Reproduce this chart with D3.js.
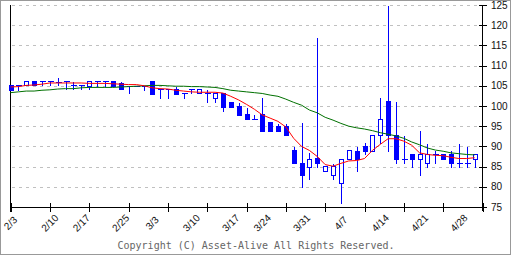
<!DOCTYPE html>
<html lang="ja">
<head>
<meta charset="utf-8">
<title>Candlestick chart</title>
<style>
  body { margin: 0; background: #fff; }
  svg { display: block; }
  .grid line { stroke: #c0c0c0; stroke-dasharray: 3,4; }
  .ax text { font: 10px "Liberation Sans", sans-serif; fill: #111; }
  .copy { font: 10px "DejaVu Sans Mono", monospace; fill: #666; }
</style>
</head>
<body>
<script src="https://cdn.jsdelivr.net/npm/d3@7"></script>
<script>

// ---- data (one entry per trading day) ----
const open  = [105.2,105.1,105.2,106.1,106.1,106.1,106.0,106.1,105.1,105.1,
               105.0,106.1,106.1,106.1,105.6,105.0,105.0,105.0,106.1,104.3,
               104.1,104.2,103.1,104.2,103.1,103.1,102.0,103.1,101.0,99.9,
               97.9,96.9,97.9,96.0,95.0,95.0,89.0,86.0,84.9,87.1,
               84.0,83.0,80.9,87.0,88.9,90.0,88.9,92.9,101.2,92.9,
               86.9,88.0,86.9,86.0,88.0,88.0,88.0,86.0,86.0,87.0];
const high  = [105.2,105.1,106.1,106.1,106.1,106.1,107.1,106.1,106.1,105.1,
               106.1,106.1,106.1,106.1,106.1,105.0,105.0,105.0,106.1,104.3,
               104.1,104.9,103.1,104.2,104.2,104.2,103.1,103.1,101.0,101.0,
               99.8,98.1,102.3,96.0,95.9,95.9,90.0,96.0,88.6,117.0,
               85.1,86.0,87.0,89.0,90.0,91.0,92.9,102.2,125.0,101.2,
               92.9,88.0,94.0,90.9,89.0,88.0,89.0,90.9,90.0,88.0];
const low   = [104.0,104.0,105.2,105.2,105.1,105.1,105.1,104.1,104.1,104.1,
               104.1,105.0,105.0,105.0,104.1,103.1,105.0,104.0,103.0,102.1,
               102.1,102.9,102.0,103.1,103.1,101.0,101.0,98.8,99.8,97.7,
               96.8,96.9,93.8,93.8,93.8,92.9,85.9,79.9,81.9,84.9,
               84.0,82.0,75.9,87.0,83.9,88.0,88.9,90.9,88.9,85.9,
               85.9,84.9,83.0,84.9,86.0,87.0,84.9,84.9,84.9,84.9];
const close = [104.0,105.1,106.1,105.2,106.1,106.1,106.0,106.1,105.1,105.1,
               106.1,106.1,106.1,105.0,104.1,105.0,105.0,105.0,103.0,104.3,
               104.1,102.9,103.1,104.2,104.2,103.1,103.1,99.8,99.8,97.7,
               96.8,96.9,93.8,93.8,93.8,92.9,85.9,82.9,87.0,85.9,
               85.1,85.1,87.0,89.0,86.9,88.9,92.9,96.9,92.9,86.9,
               86.9,86.9,88.0,88.0,88.0,87.0,86.0,86.0,86.0,88.0];

// moving averages (short = red, long = green)
const maShort = [104.7,104.8,105.1,105.2,105.4,105.7,105.7,105.7,105.7,105.7,
                 105.6,105.6,105.6,105.5,105.4,105.3,105.3,105.0,104.5,104.3,
                 104.2,103.9,103.7,103.5,103.4,103.4,103.4,103.2,102.4,101.5,
                 100.4,99.2,97.8,97.0,96.2,94.8,92.0,90.0,89.0,87.5,
                 85.5,85.1,85.8,86.4,86.5,87.0,89.0,90.5,91.9,91.9,
                 91.3,90.3,88.4,88.0,87.8,87.7,87.3,87.0,87.0,87.2];
const maLong  = [103.3,103.5,103.7,103.7,103.9,104.0,104.2,104.3,104.3,104.5,
                 104.6,104.6,104.6,104.6,104.7,104.8,104.9,105.0,105.1,105.1,
                 105.0,104.9,104.9,104.8,104.8,104.7,104.6,104.3,103.9,103.7,
                 103.5,103.3,103.1,102.7,102.4,101.7,100.9,100.2,99.0,98.3,
                 97.2,96.5,95.7,95.0,94.6,94.3,93.9,93.4,93.0,92.6,
                 92.0,91.1,90.4,89.6,89.1,88.8,88.4,88.2,88.0,87.9];

// date labels and the trading day they belong to
const tickLabels = ["2/3","2/10","2/17","2/25","3/3","3/10","3/17","3/24","3/31","4/7","4/14","4/21","4/28"];
const tickDays   = [0, 5, 9, 14, 18, 23, 28, 32, 37, 42, 47, 52, 57];
const priceTicks = [75, 80, 85, 90, 95, 100, 105, 110, 115, 120, 125];

// ---- drawing ----
const W = 512, H = 256;
const svg = d3.select("body").append("svg").attr("width", W).attr("height", H);

const x = d3.scaleLinear().domain([0, 60]).range([10.5, 482.5]);
const y = d3.scaleLinear().domain([75, 125]).range([207, 5]);
const px = v => Math.round(x(v)) + 0.5;
const py = v => Math.round(y(v)) + 0.5;

// frame
svg.append("rect").attr("x", 0.5).attr("y", 0.5).attr("width", W - 2).attr("height", H - 2)
  .attr("fill", "none").attr("stroke", "#999");

// grid
svg.append("g").attr("class", "grid").selectAll("line")
  .data(priceTicks.slice(1))
  .join("line")
  .attr("x1", 12).attr("x2", 482)
  .attr("y1", d => py(d)).attr("y2", d => py(d));

// axes
const axes = svg.append("g").attr("class", "ax").attr("shape-rendering", "crispEdges");
axes.append("line").attr("x1", 10.5).attr("x2", 10.5).attr("y1", 5).attr("y2", 212).attr("stroke", "#000");
axes.append("line").attr("x1", 10).attr("x2", 483).attr("y1", py(75)).attr("y2", py(75)).attr("stroke", "#000");
axes.append("line").attr("x1", 482.5).attr("x2", 482.5).attr("y1", 5).attr("y2", 211).attr("stroke", "#000");

axes.selectAll("line.xt").data(d3.range(0, 61, 5)).join("line").attr("class", "xt")
  .attr("x1", d => px(d)).attr("x2", d => px(d))
  .attr("y1", 203).attr("y2", 212).attr("stroke", "#000");

axes.selectAll("line.yt").data(priceTicks).join("line").attr("class", "yt")
  .attr("x1", 479).attr("x2", 487)
  .attr("y1", d => py(d)).attr("y2", d => py(d)).attr("stroke", "#000");

axes.selectAll("text.yl").data(priceTicks).join("text").attr("class", "yl")
  .attr("x", 491).attr("y", d => y(d)).attr("dy", "0.35em")
  .text(d => d);

axes.selectAll("text.xl").data(tickLabels).join("text").attr("class", "xl")
  .attr("text-anchor", "middle").attr("dy", "0.35em")
  .attr("transform", (d, i) => `translate(${x(tickDays[i])},223) rotate(-45)`)
  .text(d => d);

// candles
const candles = d3.range(open.length).map(i => ({i, o: open[i], h: high[i], l: low[i], c: close[i]}));
const cg = svg.append("g").attr("shape-rendering", "crispEdges");

cg.selectAll("line.wick").data(candles).join("line").attr("class", "wick")
  .attr("x1", d => px(d.i)).attr("x2", d => px(d.i))
  .attr("y1", d => py(d.h)).attr("y2", d => py(d.l))
  .attr("stroke", "#0000ff");

cg.selectAll("rect.body").data(candles.filter(d => d.o !== d.c)).join("rect").attr("class", "body")
  .attr("x", d => px(d.i) - 2).attr("width", 4)
  .attr("y", d => py(Math.max(d.o, d.c))).attr("height", d => Math.max(1, py(Math.min(d.o, d.c)) - py(Math.max(d.o, d.c))))
  .attr("fill", d => d.c > d.o ? "#fff" : "#0000ff")
  .attr("stroke", "#0000ff");

cg.selectAll("line.doji").data(candles.filter(d => d.o === d.c)).join("line").attr("class", "doji")
  .attr("x1", d => px(d.i) - 2.5).attr("x2", d => px(d.i) + 3)
  .attr("y1", d => py(d.o)).attr("y2", d => py(d.o))
  .attr("stroke", "#0000ff");

// moving averages
const line = d3.line().x((d, i) => x(i)).y(d => y(d));
svg.append("path").datum(maLong).attr("d", line).attr("fill", "none").attr("stroke", "#007000").attr("stroke-width", 1);
svg.append("path").datum(maShort).attr("d", line).attr("fill", "none").attr("stroke", "#ff0000").attr("stroke-width", 1);

// copyright
svg.append("text").attr("class", "copy").attr("x", 256).attr("y", 249).attr("text-anchor", "middle")
  .text("Copyright (C) Asset-Alive All Rights Reserved.");

</script>
</body>
</html>
